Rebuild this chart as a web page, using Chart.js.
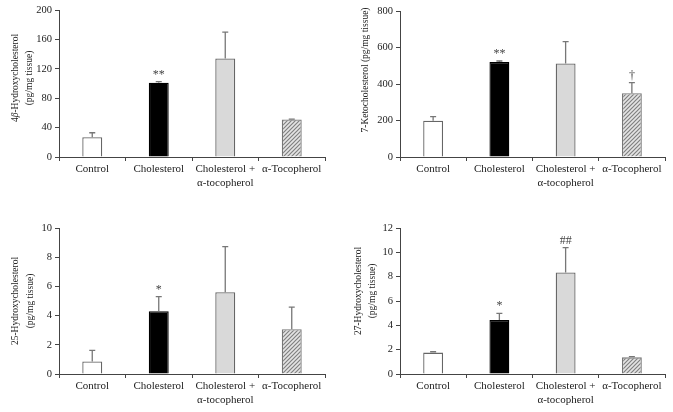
<!DOCTYPE html>
<html>
<head>
<meta charset="utf-8">
<script src="https://cdn.jsdelivr.net/npm/chart.js@4/dist/chart.umd.min.js"></script>
<style>
  body { margin: 0; background: #fff; }
  #wrap { position: relative; width: 673px; height: 412px; }
  .panel { position: absolute; }
</style>
</head>
<body>
<div id="wrap">
  <div class="panel" style="left:0;top:0;width:336px;height:200px"><canvas id="p1"></canvas></div>
  <div class="panel" style="left:340px;top:0;width:333px;height:200px"><canvas id="p2"></canvas></div>
  <div class="panel" style="left:0;top:200px;width:336px;height:212px"><canvas id="p3"></canvas></div>
  <div class="panel" style="left:340px;top:200px;width:333px;height:212px"><canvas id="p4"></canvas></div>
</div>
<script>
// groups on the x axis
const categories = ['Control', 'Cholesterol', ['Cholesterol +', 'α-tocopherol'], 'α-Tocopherol'];

// 4β-hydroxycholesterol
const hydroxy4bMean = [27, 101, 134, 51];
const hydroxy4bSd = [6, 1.5, 36, 0.5];
const hydroxy4bMarks = ['', '**', '', ''];

// 7-ketocholesterol
const keto7Mean = [199, 521, 512, 349];
const keto7Sd = [22, 5, 120, 58];
const keto7Marks = ['', '**', '', '†'];

// 25-hydroxycholesterol
const hydroxy25Mean = [0.86, 4.3, 5.6, 3.06];
const hydroxy25Sd = [0.76, 1.0, 3.12, 1.52];
const hydroxy25Marks = ['', '*', '', ''];

// 27-hydroxycholesterol
const hydroxy27Mean = [1.76, 4.44, 8.34, 1.37];
const hydroxy27Sd = [0.07, 0.55, 2.05, 0.05];
const hydroxy27Marks = ['', '*', '##', ''];

// y axis ranges
const yMax = [200, 800, 10, 12];
const yStep = [40, 200, 2, 2];

const SERIF = '"Liberation Serif", "DejaVu Serif", serif';
const AXIS = '#444';
const TEXT = '#222';

// diagonal hatch for the last group
function hatch() {
    const c = document.createElement('canvas');
    c.width = 4; c.height = 4;
    const g = c.getContext('2d');
    g.fillStyle = '#e4e4e4';
    g.fillRect(0, 0, 4, 4);
    g.strokeStyle = '#808080';
    g.lineWidth = 1.2;
    g.beginPath();
    g.moveTo(-1, 5); g.lineTo(5, -1);
    g.moveTo(-1, 1); g.lineTo(1, -1);
    g.moveTo(3, 5); g.lineTo(5, 3);
    g.stroke();
    return g.createPattern(c, 'repeat');
}
const hatchFill = hatch();

// upper error bars + significance marks
const errorBars = {
    id: 'errorBars',
    afterDatasetsDraw(chart, args, opts) {
        const ctx = chart.ctx;
        const y = chart.scales.y;
        const meta = chart.getDatasetMeta(0);
        ctx.save();
        meta.data.forEach((bar, i) => {
            const top = y.getPixelForValue(opts.mean[i] + opts.sd[i]);
            ctx.strokeStyle = '#777';
            ctx.lineWidth = 1.3;
            ctx.beginPath();
            ctx.moveTo(bar.x, bar.y);
            ctx.lineTo(bar.x, top);
            ctx.moveTo(bar.x - 3, top);
            ctx.lineTo(bar.x + 3, top);
            ctx.stroke();
            if (opts.marks[i]) {
                ctx.fillStyle = '#444';
                ctx.font = '12px ' + SERIF;
                ctx.textAlign = 'center';
                ctx.textBaseline = 'bottom';
                ctx.fillText(opts.marks[i], bar.x, top - 1);
            }
        });
        ctx.restore();
    }
};

// rotated y title, Greek letters in italics
const yTitle = {
    id: 'yTitle',
    afterDraw(chart, args, opts) {
        const ctx = chart.ctx;
        ctx.save();
        ctx.fillStyle = TEXT;
        ctx.textBaseline = 'middle';
        ctx.textAlign = 'left';
        opts.lines.forEach((line, i) => {
            const parts = line.split(/([α-ω])/).filter(p => p);
            const fontFor = p => (/[α-ω]/.test(p) ? 'italic ' : '') + '9.5px ' + SERIF;
            let total = 0;
            parts.forEach(p => { ctx.font = fontFor(p); total += ctx.measureText(p).width; });
            ctx.save();
            ctx.translate(opts.x[i], opts.cy);
            ctx.rotate(-Math.PI / 2);
            let x = -total / 2;
            parts.forEach(p => {
                ctx.font = fontFor(p);
                ctx.fillText(p, x, 0);
                x += ctx.measureText(p).width;
            });
            ctx.restore();
        });
        ctx.restore();
    }
};

function makePanel(id, mean, sd, marks, max, step, pad, xHeight, yWidth, title) {
    new Chart(document.getElementById(id), {
        type: 'bar',
        data: {
            labels: categories,
            datasets: [{
                data: mean,
                backgroundColor: ['#ffffff', '#000000', '#d9d9d9', hatchFill],
                borderColor: ['#666', '#000', '#666', '#777'],
                borderWidth: 1.3,
                categoryPercentage: 1,
                barPercentage: 0.3
            }]
        },
        plugins: [errorBars, yTitle],
        options: {
            responsive: true,
            maintainAspectRatio: false,
            animation: false,
            layout: { padding: pad },
            plugins: {
                legend: { display: false },
                tooltip: { enabled: false },
                errorBars: { mean: mean, sd: sd, marks: marks },
                yTitle: title
            },
            scales: {
                x: {
                    offset: true,
                    border: { color: AXIS, width: 1 },
                    grid: { offset: true, drawOnChartArea: false, tickLength: 4, color: AXIS },
                    ticks: {
                        color: TEXT,
                        padding: 1,
                        maxRotation: 0,
                        autoSkip: false,
                        font: { family: SERIF, size: 11, lineHeight: 1.3 }
                    },
                    afterFit: s => { s.height = xHeight; }
                },
                y: {
                    min: 0,
                    max: max,
                    border: { color: AXIS, width: 1 },
                    grid: { drawOnChartArea: false, tickLength: 4, color: AXIS },
                    ticks: {
                        stepSize: step,
                        color: TEXT,
                        padding: 3,
                        font: { family: SERIF, size: 10.5 }
                    },
                    afterFit: s => { s.width = yWidth; }
                }
            }
        }
    });
}

makePanel('p1', hydroxy4bMean, hydroxy4bSd, hydroxy4bMarks, yMax[0], yStep[0],
    { left: 0, top: 10, right: 11, bottom: 0 }, 43, 59,
    { lines: ['4β-Hydroxycholesterol', '(pg/mg tissue)'], x: [15, 29], cy: 78 });
makePanel('p2', keto7Mean, keto7Sd, keto7Marks, yMax[1], yStep[1],
    { left: 0, top: 11, right: 8, bottom: 0 }, 43, 60,
    { lines: ['7-Ketocholesterol (pg/mg tissue)'], x: [25], cy: 70 });
makePanel('p3', hydroxy25Mean, hydroxy25Sd, hydroxy25Marks, yMax[2], yStep[2],
    { left: 0, top: 28, right: 11, bottom: 0 }, 38, 59,
    { lines: ['25-Hydroxycholesterol', '(pg/mg tissue)'], x: [15, 30], cy: 101 });
makePanel('p4', hydroxy27Mean, hydroxy27Sd, hydroxy27Marks, yMax[3], yStep[3],
    { left: 0, top: 28, right: 8, bottom: 0 }, 38, 60,
    { lines: ['27-Hydroxycholesterol', '(pg/mg tissue)'], x: [18, 32], cy: 91 });
</script>
</body>
</html>
